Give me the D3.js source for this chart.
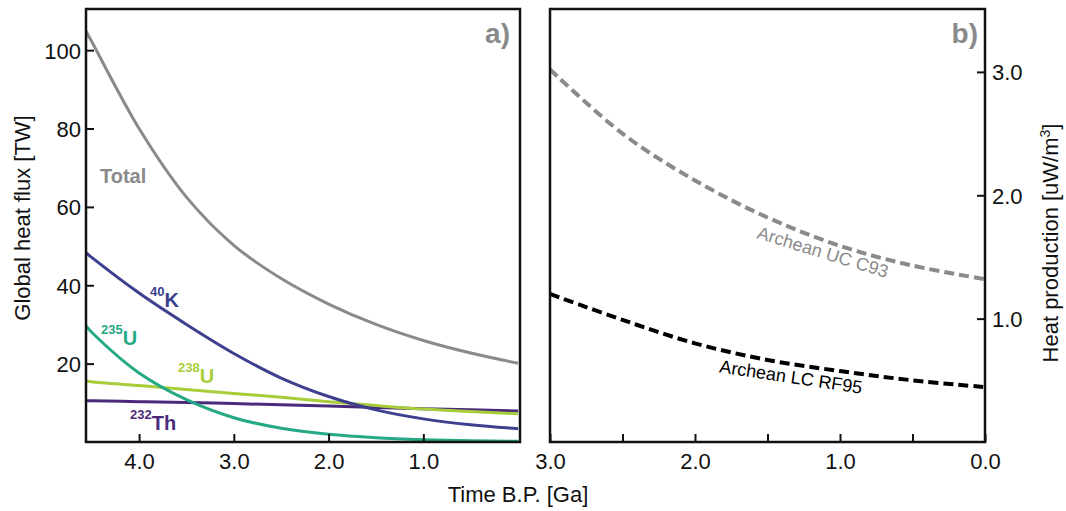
<!DOCTYPE html>
<html>
<head>
<meta charset="utf-8">
<script src="https://cdn.jsdelivr.net/npm/d3@7"></script>
<style>
  body { margin: 0; background: #fff; }
  svg { display: block; font-family: "Liberation Sans", Arial, Helvetica, sans-serif; }
  .tick text { font-size: 22px; fill: #111; }
  .tick line { stroke: #111; stroke-width: 2; }
</style>
</head>
<body>
<svg id="chart" width="1066" height="511"></svg>
<script>
// ---------- data ----------
// Panel a: global heat flux [TW] vs time B.P. [Ga]
const ageA   = [4.56, 4.5, 4.0, 3.5, 3.0, 2.5, 2.0, 1.5, 1.0, 0.5, 0.0];
const total  = [104.8, 102.2, 80.0, 62.5, 50.2, 41.7, 35.2, 30.0, 25.9, 22.7, 20.1];
const k40    = [48.3, 47.1, 38.0, 30.0, 22.6, 16.3, 11.6, 8.2, 5.9, 4.4, 3.4];
const u235   = [29.6, 28.0, 17.6, 10.8, 6.2, 3.5, 1.95, 1.08, 0.6, 0.33, 0.18];
const u238   = [15.6, 15.4, 14.4, 13.4, 12.4, 11.4, 10.3, 9.3, 8.4, 7.8, 7.2];
const th232  = [10.5, 10.5, 10.3, 10.1, 9.8, 9.5, 9.2, 8.8, 8.5, 8.2, 7.9];

// Panel b: heat production [uW/m3] vs time B.P. [Ga]
const ageB   = [3.0, 2.5, 2.0, 1.5, 1.0, 0.5, 0.0];
const ucC93  = [3.02, 2.50, 2.12, 1.82, 1.59, 1.43, 1.32];
const lcRF95 = [1.20, 0.99, 0.80, 0.665, 0.575, 0.50, 0.445];

// tick values
const xTicksA = [4, 3, 2, 1];
const yTicksA = [20, 40, 60, 80, 100];
const xTicksB = [3, 2.5, 2, 1.5, 1, 0.5, 0];
const xLabelsB = [3, 2, 1, 0];
const yTicksB = [1, 2, 3];

// ---------- layout ----------
const svg = d3.select("#chart");
const A = {left: 86, right: 520, top: 9, bottom: 442};
const B = {left: 550, right: 985, top: 9, bottom: 442};

const xA = d3.scaleLinear().domain([4.56, -0.02]).range([A.left, A.right]);
const yA = d3.scaleLinear().domain([0, 110.5]).range([A.bottom, A.top]);
const xB = d3.scaleLinear().domain([3, 0]).range([B.left, B.right]);
const yB = d3.scaleLinear().domain([0, 3.51]).range([B.bottom, B.top]);

const defs = svg.append("defs");
defs.append("clipPath").attr("id", "clipA").append("rect")
  .attr("x", A.left).attr("y", A.top).attr("width", A.right - A.left).attr("height", A.bottom - A.top);
defs.append("clipPath").attr("id", "clipB").append("rect")
  .attr("x", B.left).attr("y", B.top).attr("width", B.right - B.left).attr("height", B.bottom - B.top);

// ---------- panel a ----------
const seriesA = [
  {vals: total, color: "#8a8a8a"},
  {vals: th232, color: "#4b2a7b"},
  {vals: u238,  color: "#a8cd3a"},
  {vals: k40,   color: "#3d3f8f"},
  {vals: u235,  color: "#25a985"}
];
const lineA = d3.line().curve(d3.curveCatmullRom.alpha(0.5));
const gA = svg.append("g").attr("clip-path", "url(#clipA)");
seriesA.forEach(s => {
  gA.append("path")
    .attr("d", lineA(ageA.map((a, i) => [xA(a), yA(s.vals[i])])))
    .attr("fill", "none").attr("stroke", s.color).attr("stroke-width", 3);
});

const axAx = svg.append("g").attr("transform", `translate(0,${A.bottom})`)
  .call(d3.axisBottom(xA).tickValues(xTicksA).tickFormat(d3.format(".1f")).tickSize(-8).tickPadding(11));
const axAy = svg.append("g").attr("transform", `translate(${A.left},0)`)
  .call(d3.axisLeft(yA).tickValues(yTicksA).tickFormat(d3.format("d")).tickSize(-8).tickPadding(5));
[axAx, axAy].forEach(g => g.select(".domain").remove());
axAy.selectAll("text").attr("dy", "0.36em");

svg.append("rect").attr("x", A.left).attr("y", A.top)
  .attr("width", A.right - A.left).attr("height", A.bottom - A.top)
  .attr("fill", "none").attr("stroke", "#111").attr("stroke-width", 2.5);

// labels panel a
svg.append("text").attr("x", 100).attr("y", 183).text("Total")
  .attr("font-size", 20).attr("font-weight", "bold").attr("fill", "#8a8a8a");

function isoLabel(x, y, sup, main, color) {
  const t = svg.append("text").attr("x", x).attr("y", y)
    .attr("font-weight", "bold").attr("fill", color);
  t.append("tspan").attr("font-size", 13).attr("dy", -11).text(sup);
  t.append("tspan").attr("font-size", 20).attr("dy", 11).text(main);
}
isoLabel(150, 307, "40", "K", "#3d3f8f");
isoLabel(101, 345, "235", "U", "#25a985");
isoLabel(178, 383, "238", "U", "#a8cd3a");
isoLabel(130, 430, "232", "Th", "#4b2a7b");

svg.append("text").attr("x", 510).attr("y", 43).attr("text-anchor", "end")
  .attr("font-size", 28).attr("font-weight", "bold").attr("fill", "#8a8a8a").text("a)");

// ---------- panel b ----------
const lineB = d3.line().curve(d3.curveCatmullRom.alpha(0.5));
const gB = svg.append("g").attr("clip-path", "url(#clipB)");
gB.append("path").attr("d", lineB(ageB.map((a, i) => [xB(a), yB(ucC93[i])])))
  .attr("fill", "none").attr("stroke", "#8a8a8a").attr("stroke-width", 4).attr("stroke-dasharray", "10,5");
gB.append("path").attr("d", lineB(ageB.map((a, i) => [xB(a), yB(lcRF95[i])])))
  .attr("fill", "none").attr("stroke", "#000").attr("stroke-width", 4).attr("stroke-dasharray", "10,5");

const axBx = svg.append("g").attr("transform", `translate(0,${B.bottom})`)
  .call(d3.axisBottom(xB).tickValues(xTicksB)
    .tickFormat(d => xLabelsB.includes(d) ? d3.format(".1f")(d) : "")
    .tickSize(-8).tickPadding(11));
const axBy = svg.append("g").attr("transform", `translate(${B.right},0)`)
  .call(d3.axisRight(yB).tickValues(yTicksB).tickFormat(d3.format(".1f")).tickSize(-8).tickPadding(7));
[axBx, axBy].forEach(g => g.select(".domain").remove());
axBy.selectAll("text").attr("dy", "0.36em");

svg.append("rect").attr("x", B.left).attr("y", B.top)
  .attr("width", B.right - B.left).attr("height", B.bottom - B.top)
  .attr("fill", "none").attr("stroke", "#111").attr("stroke-width", 2.5);

svg.append("text").attr("transform", "translate(821,258) rotate(17)")
  .attr("text-anchor", "middle").attr("font-size", 18).attr("fill", "#8a8a8a").text("Archean UC C93");
svg.append("text").attr("transform", "translate(790,383) rotate(8.5)")
  .attr("text-anchor", "middle").attr("font-size", 18).attr("fill", "#000").text("Archean LC RF95");

svg.append("text").attr("x", 978).attr("y", 43).attr("text-anchor", "end")
  .attr("font-size", 28).attr("font-weight", "bold").attr("fill", "#8a8a8a").text("b)");

// ---------- axis titles ----------
svg.append("text").attr("transform", "translate(30,218) rotate(-90)")
  .attr("text-anchor", "middle").attr("font-size", 22).attr("fill", "#111").text("Global heat flux [TW]");
const rt = svg.append("text").attr("transform", "translate(1058,243) rotate(-90)")
  .attr("text-anchor", "middle").attr("font-size", 22).attr("fill", "#111");
rt.append("tspan").text("Heat production [uW/m");
rt.append("tspan").attr("font-size", 14).attr("dy", -8).text("3");
rt.append("tspan").attr("dy", 8).text("]");
svg.append("text").attr("x", 518).attr("y", 502).attr("text-anchor", "middle")
  .attr("font-size", 22).attr("fill", "#111").text("Time B.P. [Ga]");
</script>
</body>
</html>
